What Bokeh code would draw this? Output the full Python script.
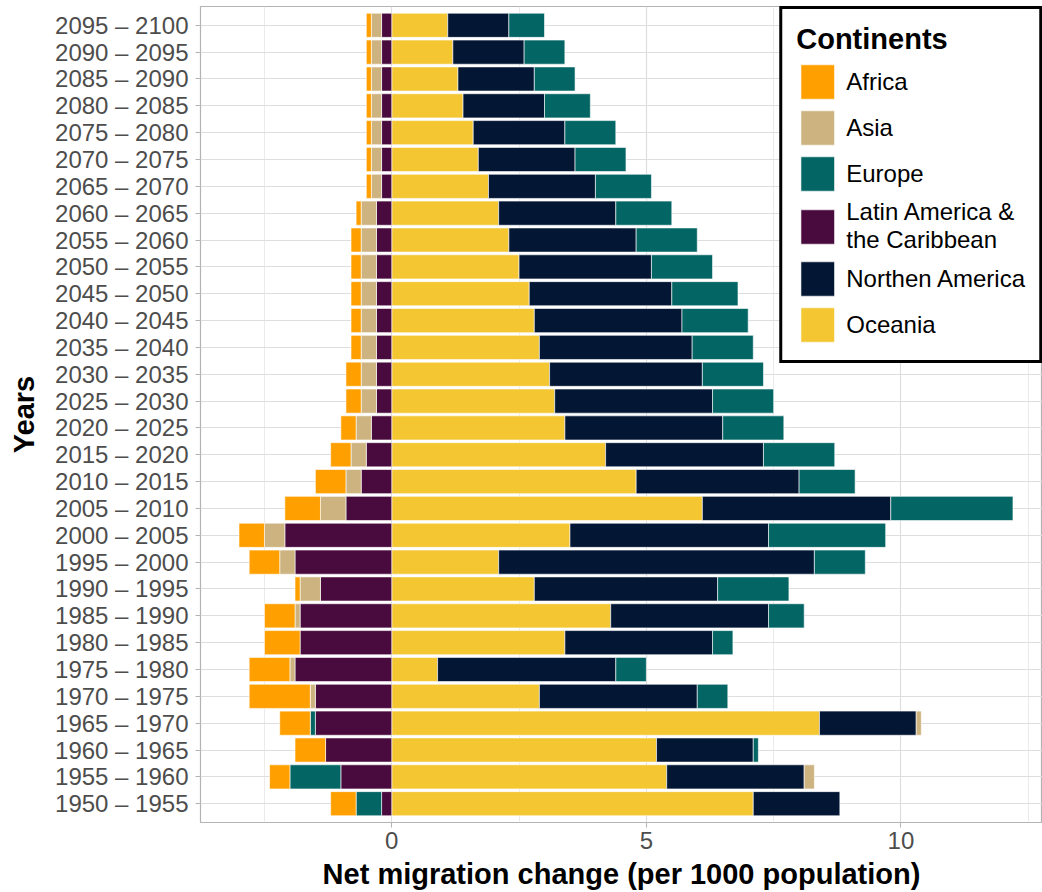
import numpy as np
from bokeh.plotting import figure
from bokeh.models import ColumnDataSource, FactorRange, Range1d, FixedTicker, Legend, LegendItem
from bokeh.embed import file_html
from bokeh.resources import INLINE

# Periods, bottom (1950) to top (2095)
periods = [
    "1950 – 1955", "1955 – 1960", "1960 – 1965", "1965 – 1970", "1970 – 1975",
    "1975 – 1980", "1980 – 1985", "1985 – 1990", "1990 – 1995", "1995 – 2000",
    "2000 – 2005", "2005 – 2010", "2010 – 2015", "2015 – 2020", "2020 – 2025",
    "2025 – 2030", "2030 – 2035", "2035 – 2040", "2040 – 2045", "2045 – 2050",
    "2050 – 2055", "2055 – 2060", "2060 – 2065", "2065 – 2070", "2070 – 2075",
    "2075 – 2080", "2080 – 2085", "2085 – 2090", "2090 – 2095", "2095 – 2100",
]

africa = [-0.5, -0.4, -0.6, -0.6, -1.2, -0.8, -0.7, -0.6, -0.1, -0.6,
          -0.5, -0.7, -0.6, -0.4, -0.3, -0.3, -0.3, -0.2, -0.2, -0.2,
          -0.2, -0.2, -0.1, -0.1, -0.1, -0.1, -0.1, -0.1, -0.1, -0.1]
asia = [0.0, 0.2, 0.0, 0.1, -0.1, -0.1, 0.0, -0.1, -0.4, -0.3,
        -0.4, -0.5, -0.3, -0.3, -0.3, -0.3, -0.3, -0.3, -0.3, -0.3,
        -0.3, -0.3, -0.3, -0.2, -0.2, -0.2, -0.2, -0.2, -0.2, -0.2]
europe = [-0.5, -1.0, 0.1, -0.1, 0.6, 0.6, 0.4, 0.7, 1.4, 1.0,
          2.3, 2.4, 1.1, 1.4, 1.2, 1.2, 1.2, 1.2, 1.3, 1.3,
          1.2, 1.2, 1.1, 1.1, 1.0, 1.0, 0.9, 0.8, 0.8, 0.7]
latin_america = [-0.2, -1.0, -1.3, -1.5, -1.5, -1.9, -1.8, -1.8, -1.4, -1.9,
                 -2.1, -0.9, -0.6, -0.5, -0.4, -0.3, -0.3, -0.3, -0.3, -0.3,
                 -0.3, -0.3, -0.3, -0.2, -0.2, -0.2, -0.2, -0.2, -0.2, -0.2]
northern_america = [1.7, 2.7, 1.9, 1.9, 3.1, 3.5, 2.9, 3.1, 3.6, 6.2,
                    3.9, 3.7, 3.2, 3.1, 3.1, 3.1, 3.0, 3.0, 2.9, 2.8,
                    2.6, 2.5, 2.3, 2.1, 1.9, 1.8, 1.6, 1.5, 1.4, 1.2]
oceania = [7.1, 5.4, 5.2, 8.4, 2.9, 0.9, 3.4, 4.3, 2.8, 2.1,
           3.5, 6.1, 4.8, 4.2, 3.4, 3.2, 3.1, 2.9, 2.8, 2.7,
           2.5, 2.3, 2.1, 1.9, 1.7, 1.6, 1.4, 1.3, 1.2, 1.1]

continents = ["Africa", "Asia", "Europe", "Latin America &\nthe Caribbean",
              "Northen America", "Oceania"]
values = [africa, asia, europe, latin_america, northern_america, oceania]
colors = ["#FF9F00", "#CDB380", "#036564", "#490A3D", "#031634", "#F3C632"]

FONT = "Liberation Sans"

p = figure(
    y_range=FactorRange(factors=periods, range_padding=0.2, range_padding_units="absolute"),
    x_range=Range1d(-3.756, 12.78),
    width=1042, height=892,
    output_backend="svg", toolbar_location=None,
    min_border_left=200, min_border_right=0, min_border_top=6, min_border_bottom=70,
)
p.background_fill_color = "white"
p.border_fill_color = "white"
p.outline_line_color = "#B3B3B3"
p.outline_line_width = 1.2

# stacking: from zero outward Oceania, N. America, Latin America, Europe, Asia, Africa
stack_order = [5, 4, 3, 2, 1, 0]
pos = np.zeros(len(periods))
neg = np.zeros(len(periods))
renderers = {}
for idx in stack_order:
    v = np.array(values[idx], dtype=float)
    left = np.where(v >= 0, pos, neg + v)
    right = np.where(v >= 0, pos + v, neg)
    pos = pos + np.where(v > 0, v, 0)
    neg = neg + np.where(v < 0, v, 0)
    mask = v != 0
    src = ColumnDataSource(dict(
        y=[per for per, m in zip(periods, mask) if m],
        left=left[mask], right=right[mask],
    ))
    r = p.hbar(y="y", left="left", right="right", height=0.9, source=src,
               fill_color=colors[idx], line_color="white", line_width=0.6)
    renderers[idx] = r

legend = Legend(
    items=[LegendItem(label=continents[i], renderers=[renderers[i]]) for i in range(6)],
    location="top_right",
    title="Continents",
    title_text_font=FONT, title_text_font_size="29px", title_text_font_style="bold",
    title_text_color="black", title_standoff=4,
    label_text_font=FONT, label_text_font_size="24px", label_text_color="black",
    label_text_line_height=0.85,
    glyph_width=42, glyph_height=43, label_height=43, label_standoff=8,
    spacing=3, padding=14, margin=0,
    border_line_color="black", border_line_width=3, border_line_alpha=1.0,
    background_fill_color="white", background_fill_alpha=1.0,
)
p.add_layout(legend, "center")

# axes
p.xaxis.ticker = FixedTicker(ticks=[0, 5, 10], minor_ticks=[-2.5, 2.5, 7.5, 12.5])
for ax in (p.xaxis[0], p.yaxis[0]):
    ax.axis_line_color = None
    ax.major_tick_line_color = "#B3B3B3"
    ax.major_tick_out = 5
    ax.major_tick_in = 0
    ax.minor_tick_line_color = None
    ax.major_label_text_font = FONT
    ax.major_label_text_font_size = "24px"
    ax.major_label_text_color = "#4D4D4D"
    ax.axis_label_text_font = FONT
    ax.axis_label_text_font_size = "29px"
    ax.axis_label_text_font_style = "bold"
    ax.axis_label_text_color = "black"

p.xaxis.axis_label = "Net migration change (per 1000 population)"
p.yaxis.axis_label = "Years"
p.xaxis.major_label_standoff = 4
p.xaxis.axis_label_standoff = 6
p.yaxis.major_label_standoff = 7
p.yaxis.axis_label_standoff = 12

p.xgrid.grid_line_color = "#DEDEDE"
p.xgrid.grid_line_width = 1.2
p.xgrid.minor_grid_line_color = "#EBEBEB"
p.xgrid.minor_grid_line_width = 1
p.ygrid.grid_line_color = "#DEDEDE"
p.ygrid.grid_line_width = 1.2

open("out.html", "w").write(file_html(p, INLINE))
